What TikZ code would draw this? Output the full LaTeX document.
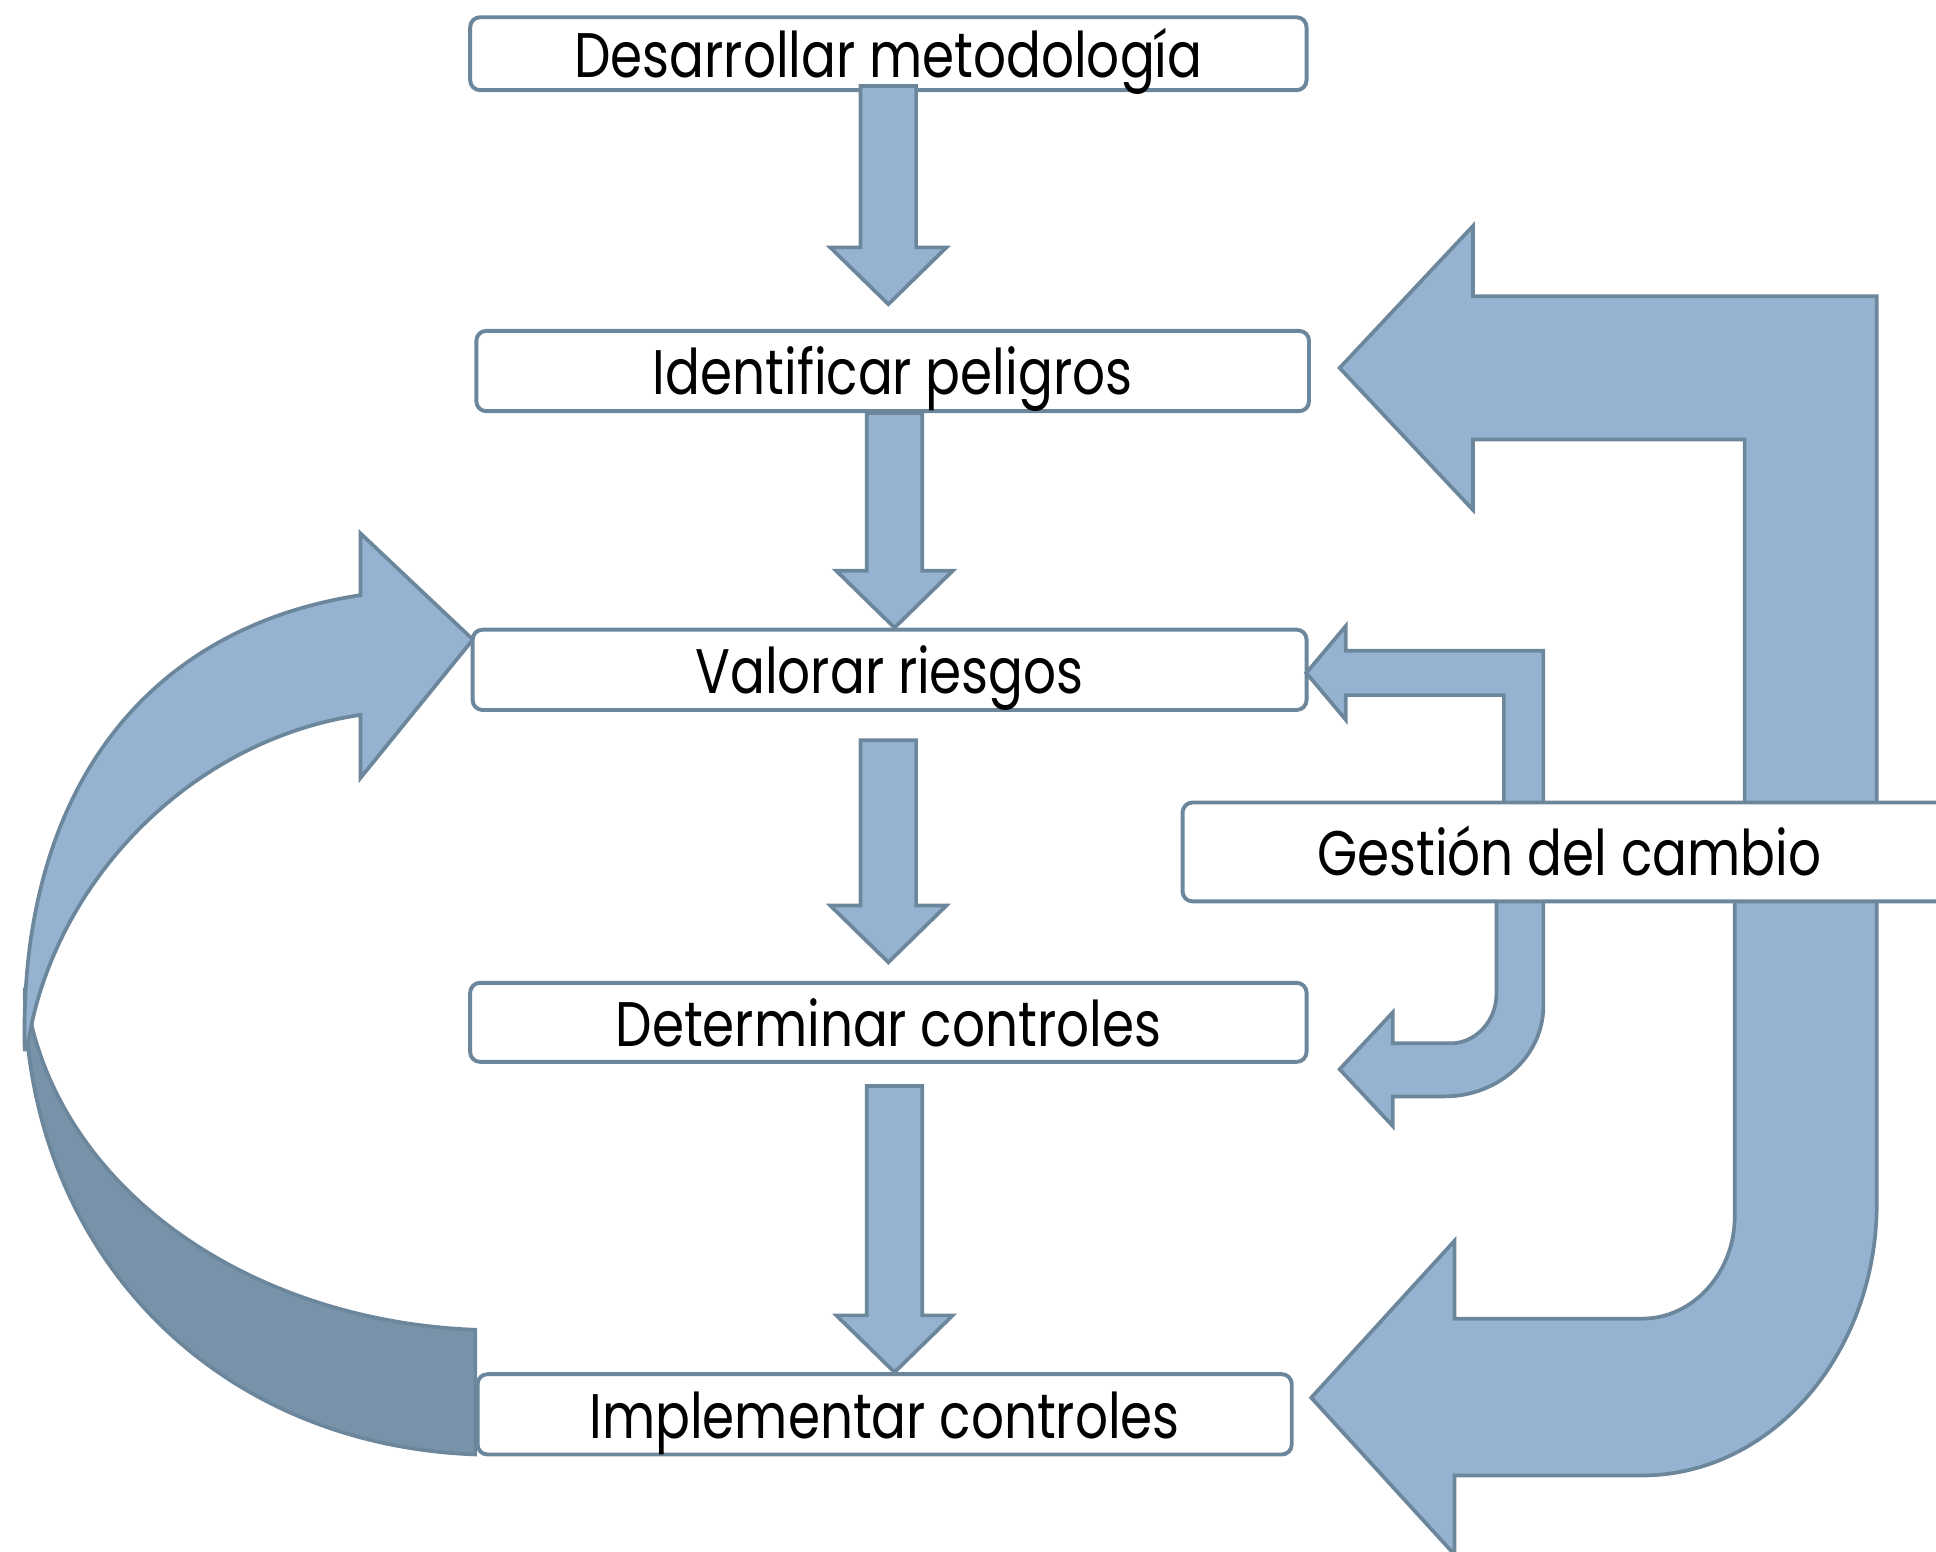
\documentclass[tikz,border=0pt]{standalone}
\usepackage{fontspec}
\setmainfont{Poppins}[FakeStretch=0.82]
\usetikzlibrary{calc}
\definecolor{fillC}{RGB}{149,179,208}
\definecolor{lineC}{RGB}{108,134,156}
\definecolor{darkC}{RGB}{120,147,169}
\tikzset{
  stepbox/.style={draw=lineC, fill=white, line width=0.9pt, rounded corners=0.8mm,
    rectangle, inner sep=0pt, text height=11pt, text depth=0pt,
    font=\fontsize{14.5pt}{16pt}\selectfont},
  blk/.style={fill=fillC, draw=lineC, line width=0.85pt, line join=miter},
}
\newcommand{\bdown}[2]{\path[blk] let \p1=(#1), \p2=(#2) in
  (\x2-6.4pt,\y1) -- (\x2+6.4pt,\y1) -- (\x2+6.4pt,\y2+13.1pt) -- (\x2+13.4pt,\y2+13.1pt)
  -- (\x2,\y2) -- (\x2-13.4pt,\y2+13.1pt) -- (\x2-6.4pt,\y2+13.1pt) -- cycle;}
\begin{document}
\begin{tikzpicture}[x=0.01cm,y=-0.01cm]
\useasboundingbox (0,0) rectangle (1568,1257);
\clip (0,0) rectangle (1568,1257);
% curved feedback arrow (left)
\path[blk, fill=darkC] (385,1178) .. controls (170,1170) and (20,1010) .. (20,800)
  .. controls (40,960) and (200,1070) .. (385,1077) -- cycle;
\path[blk] (20,850) .. controls (15,650) and (110,510) .. (292,482) -- (292,432) -- (383,518)
  -- (292,630) -- (292,579) .. controls (150,600) and (40,720) .. (22,850) -- cycle;
% boxes
\node[stepbox, minimum width=6.77cm, minimum height=0.59cm] (b1) at (719.5,43.5) {Desarrollar metodología};
\node[stepbox, minimum width=6.74cm, minimum height=0.65cm] (b2) at (723,300.5) {Identificar peligros};
\node[stepbox, minimum width=6.75cm, minimum height=0.65cm] (b3) at (720.5,542.5) {Valorar riesgos};
\node[stepbox, minimum width=6.77cm, minimum height=0.64cm] (b4) at (719.5,828) {Determinar controles};
\node[stepbox, minimum width=6.59cm, minimum height=0.65cm] (b5) at (716.5,1145.5) {Implementar controles};
% down arrows
\coordinate (a1s) at ($(b1.south)+(0,-5)$);
\coordinate (a1t) at ($(b2.north)+(-3.5,-20)$);
\coordinate (a2s) at ($(b2.south)+(1.5,0)$);
\coordinate (a2t) at ($(b3.north)+(4,0)$);
\coordinate (a3s) at ($(b3.south)+(-1,23)$);
\coordinate (a3t) at ($(b4.north)+(0,-15)$);
\coordinate (a4s) at ($(b4.south)+(5,18)$);
\coordinate (a4t) at ($(b5.north)+(8,0)$);
\bdown{a1s}{a1t}
\bdown{a2s}{a2t}
\bdown{a3s}{a3t}
\bdown{a4s}{a4t}
% right feedback arrows
\path[blk] (1085,298) -- (1193,183) -- (1193,240) -- (1520,240) -- (1520,700) -- (1413,700)
  -- (1413,356) -- (1193,356) -- (1193,413) -- cycle;
\path[blk] (1405,700) -- (1405,985) .. controls (1405,1031) and (1371,1068) .. (1330,1068)
  -- (1178,1068) -- (1178,1005) -- (1062,1132) -- (1178,1259) -- (1178,1195) -- (1330,1195)
  .. controls (1435,1195) and (1520,1096) .. (1520,975) -- (1520,700) -- cycle;
\path[blk] (1058,545) -- (1090,507) -- (1090,527) -- (1250,527) -- (1250,700) -- (1218,700)
  -- (1218,563) -- (1090,563) -- (1090,583) -- cycle;
\path[blk] (1212,700) -- (1212,805) .. controls (1212,827) and (1195,845) .. (1175,845)
  -- (1128,845) -- (1128,820) -- (1085,866) -- (1128,912) -- (1128,888) -- (1170,888)
  .. controls (1214,888) and (1250,855) .. (1250,815) -- (1250,700) -- cycle;
% change management box
\node[stepbox, minimum width=6.26cm, minimum height=0.80cm] (g) at (1271,690) {Gestión del cambio};
\end{tikzpicture}
\end{document}
